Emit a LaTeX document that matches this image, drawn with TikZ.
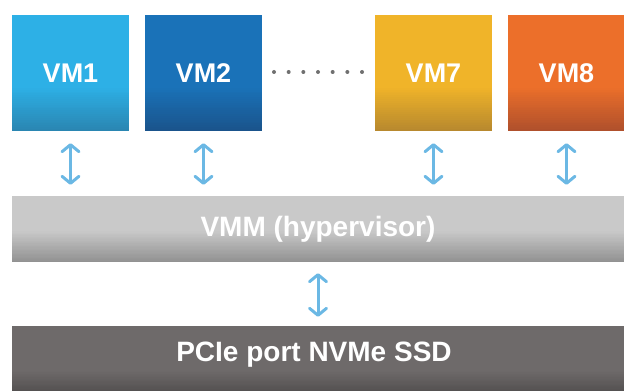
\documentclass[tikz,border=0pt]{standalone}
\usepackage{fontspec}
\setmainfont{Liberation Sans}
\usetikzlibrary{arrows.meta}
\definecolor{vmone}{HTML}{2DB0E6}\definecolor{vmoned}{HTML}{2A86B2}
\definecolor{vmtwo}{HTML}{1A72B8}\definecolor{vmtwod}{HTML}{1A548C}
\definecolor{vmseven}{HTML}{F0B429}\definecolor{vmsevend}{HTML}{B8892E}
\definecolor{vmeight}{HTML}{EC6F2A}\definecolor{vmeightd}{HTML}{B0502C}
\definecolor{vmmc}{HTML}{C9C9C9}\definecolor{vmmd}{HTML}{929292}
\definecolor{ssdc}{HTML}{6E6A6A}\definecolor{ssdd}{HTML}{4A4747}
\definecolor{arrowc}{HTML}{6BB8E4}
\definecolor{dotc}{HTML}{707070}
\newcommand\gradstrips[3]{%
  \foreach \k in {0,...,23}{%
    \pgfmathtruncatemacro\pc{100-\k*100/23}%
    \fill[#2!\pc!#1] ([yshift=\k*#3/24]path picture bounding box.south west)
      rectangle ([yshift=(\k+1)*#3/24+0.4]path picture bounding box.south east);}}
\tikzset{
  gradbox/.style n args={3}{fill=#1, inner sep=0pt, text=white,
    font=\fontsize{27}{30}\selectfont\bfseries,
    path picture={\gradstrips{#1}{#2}{#3}}},
  vmbox/.style 2 args={gradbox={#1}{#2}{45}, minimum width=117pt, minimum height=116pt},
  link/.style={draw=arrowc, line width=3pt, line cap=round,
    {Straight Barb[length=7pt,width=17pt,round]}-{Straight Barb[length=7pt,width=17pt,round]}},
}
\begin{document}
\begin{tikzpicture}[x=1pt,y=1pt]
\useasboundingbox (0,0) rectangle (624,391);
\node[vmbox={vmone}{vmoned}] (vm1) at (70.5,318) {VM1};
\node[vmbox={vmtwo}{vmtwod}] (vm2) at (203.5,318) {VM2};
\node[vmbox={vmseven}{vmsevend}] (vm7) at (433.5,318) {VM7};
\node[vmbox={vmeight}{vmeightd}] (vm8) at (566.5,318) {VM8};
\foreach \i in {0,...,6} \fill[dotc] (274+\i*14.67,319) circle (2pt);
\node[gradbox={vmmc}{vmmd}{32}, minimum width=612pt, minimum height=66pt,
  font=\fontsize{28}{30}\selectfont\bfseries] (vmm) at (318,162) {VMM (hypervisor)};
\node[gradbox={ssdc}{ssdd}{30}, minimum width=612pt, minimum height=74pt] (ssd) at (318,28) {};
\node[text=white, font=\fontsize{28}{30}\selectfont\bfseries, inner sep=0pt] (ssdlabel) at (314,36) {PCIe port NVMe SSD};
\foreach \v in {vm1,vm2,vm7,vm8}
  \draw[link, shorten <=12pt, shorten >=11pt] (\v.south) -- (\v.south |- vmm.north);
\draw[link, shorten <=11pt, shorten >=9pt] (vmm.south) -- (vmm.south |- ssd.north);
\end{tikzpicture}
\end{document}
